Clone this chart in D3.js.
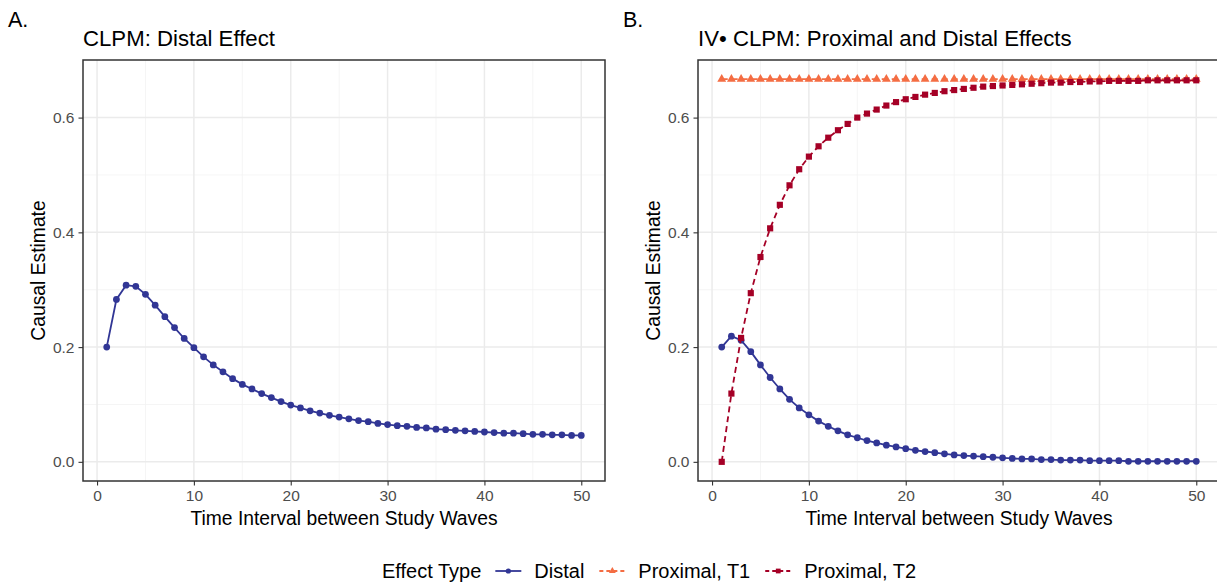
<!DOCTYPE html>
<html>
<head>
<meta charset="utf-8">
<script src="https://cdn.jsdelivr.net/npm/d3@7/dist/d3.min.js"></script>
<style>
body {margin:0; background:#fff;}
svg text {font-family:"Liberation Sans", Arial, Helvetica, sans-serif;}
</style>
</head>
<body>
<div id="chart"></div>
<script>
// study wave intervals
var waves = [1,2,3,4,5,6,7,8,9,10,11,12,13,14,15,16,17,18,19,20,21,22,23,24,25,
             26,27,28,29,30,31,32,33,34,35,36,37,38,39,40,41,42,43,44,45,46,47,48,49,50];

// panel A: CLPM distal effect
var distalA = [0.200,0.283,0.308,0.306,0.292,0.273,0.253,0.234,0.215,0.199,
               0.183,0.169,0.157,0.145,0.135,0.127,0.119,0.112,0.105,0.099,
               0.094,0.089,0.085,0.081,0.078,0.075,0.072,0.070,0.067,0.065,
               0.063,0.062,0.060,0.059,0.057,0.056,0.055,0.054,0.053,0.052,
               0.051,0.050,0.050,0.049,0.048,0.048,0.047,0.047,0.046,0.046];

// panel B: IV CLPM
var distalB = [0.200,0.219,0.212,0.192,0.169,0.147,0.127,0.109,0.094,0.082,
               0.071,0.062,0.054,0.047,0.042,0.037,0.033,0.029,0.026,0.023,
               0.020,0.018,0.016,0.014,0.012,0.011,0.010,0.009,0.008,0.007,
               0.006,0.005,0.005,0.004,0.004,0.003,0.003,0.003,0.002,0.002,
               0.002,0.002,0.001,0.001,0.001,0.001,0.001,0.001,0.001,0.001];
var proxT1 = [0.667,0.667,0.667,0.667,0.667,0.667,0.667,0.667,0.667,0.667,
              0.667,0.667,0.667,0.667,0.667,0.667,0.667,0.667,0.667,0.667,
              0.667,0.667,0.667,0.667,0.667,0.667,0.667,0.667,0.667,0.667,
              0.667,0.667,0.667,0.667,0.667,0.667,0.667,0.667,0.667,0.667,
              0.667,0.667,0.667,0.667,0.667,0.667,0.667,0.667,0.667,0.667];
var proxT2 = [0.000,0.119,0.216,0.294,0.357,0.407,0.448,0.482,0.510,0.532,
              0.550,0.565,0.578,0.589,0.600,0.607,0.614,0.621,0.627,0.632,
              0.636,0.640,0.643,0.646,0.648,0.650,0.652,0.654,0.655,0.656,
              0.657,0.658,0.659,0.660,0.661,0.661,0.662,0.662,0.663,0.663,
              0.664,0.664,0.664,0.664,0.665,0.665,0.665,0.665,0.665,0.665];

var xTicks = [0,10,20,30,40,50];
var xMinor = [5,15,25,35,45];
var yTicks = [0,0.2,0.4,0.6];
var yMinor = [0.1,0.3,0.5];

var seriesNames = ["Distal","Proximal, T1","Proximal, T2"];
var seriesColors = ["#313695","#F46D43","#A50026"];
var seriesDash = [null,"6,4","6,4"];
var seriesSymbols = [d3.symbolCircle,d3.symbolTriangle,d3.symbolSquare];
var symbolSizes = [36,34,38];

var W = 1217, H = 585;
var panelW = 522, panelTop = 60, panelBottom = 481;

var svg = d3.select("#chart")
  .append("svg")
  .attr("width", W)
  .attr("height", H);

var y = d3.scaleLinear()
  .domain([-0.0334, 0.7004])
  .range([panelBottom, panelTop]);

function makeSeries(vals){
  return waves.map(function(w,i){return {x:w, y:vals[i]};});
}

var drawPanel = function(left, tag, title, series){
  var x = d3.scaleLinear()
    .domain([-1.45, 52.45])
    .range([left, left+panelW]);

  var g = svg.append("g");

  // grid
  g.selectAll(".ymin").data(yMinor).enter().append("line")
    .attr("x1", left).attr("x2", left+panelW)
    .attr("y1", function(d){return y(d);}).attr("y2", function(d){return y(d);})
    .attr("stroke","#f2f2f2").attr("stroke-width",0.8);
  g.selectAll(".xmin").data(xMinor).enter().append("line")
    .attr("y1", panelTop).attr("y2", panelBottom)
    .attr("x1", function(d){return x(d);}).attr("x2", function(d){return x(d);})
    .attr("stroke","#f2f2f2").attr("stroke-width",0.8);
  g.selectAll(".ymaj").data(yTicks).enter().append("line")
    .attr("x1", left).attr("x2", left+panelW)
    .attr("y1", function(d){return y(d);}).attr("y2", function(d){return y(d);})
    .attr("stroke","#ebebeb").attr("stroke-width",1.5);
  g.selectAll(".xmaj").data(xTicks).enter().append("line")
    .attr("y1", panelTop).attr("y2", panelBottom)
    .attr("x1", function(d){return x(d);}).attr("x2", function(d){return x(d);})
    .attr("stroke","#ebebeb").attr("stroke-width",1.5);

  // axes
  var xAxis = g.append("g")
    .attr("transform","translate(0,"+panelBottom+")")
    .call(d3.axisBottom(x).tickValues(xTicks).tickSize(4.5).tickPadding(4).tickFormat(d3.format("d")));
  var yAxis = g.append("g")
    .attr("transform","translate("+left+",0)")
    .call(d3.axisLeft(y).tickValues(yTicks).tickSize(4.5).tickPadding(4).tickFormat(d3.format(".1f")));
  [xAxis,yAxis].forEach(function(a){
    a.select(".domain").remove();
    a.selectAll(".tick line").attr("stroke","#333333").attr("stroke-width",1.1);
    a.selectAll(".tick text").attr("fill","#4d4d4d").style("font-size","15.5px")
      .style("font-family","'Liberation Sans', Arial, sans-serif");
  });

  // lines and points
  var line = d3.line().x(function(d){return x(d.x);}).y(function(d){return y(d.y);});
  series.forEach(function(s){
    var k = s.k;
    var data = makeSeries(s.vals);
    g.append("path")
      .datum(data)
      .attr("d", line)
      .attr("fill","none")
      .attr("stroke", seriesColors[k])
      .attr("stroke-width", 1.8)
      .attr("stroke-dasharray", seriesDash[k]);
    g.selectAll(".pt"+k).data(data).enter().append("path")
      .attr("d", d3.symbol().type(seriesSymbols[k]).size(symbolSizes[k]))
      .attr("transform", function(d){return "translate("+x(d.x)+","+y(d.y)+")";})
      .attr("fill", seriesColors[k]);
  });

  // panel border
  g.append("rect")
    .attr("x", left).attr("y", panelTop)
    .attr("width", panelW).attr("height", panelBottom-panelTop)
    .attr("fill","none").attr("stroke","#333333").attr("stroke-width",1.5);

  // labels
  svg.append("text").text(tag)
    .attr("x", left-75).attr("y", 27)
    .style("font-size","21.5px").attr("fill","#000");
  svg.append("text").text(title)
    .attr("x", left).attr("y", 46)
    .style("font-size","22.2px").attr("fill","#000");
  svg.append("text").text("Time Interval between Study Waves")
    .attr("x", left+panelW/2).attr("y", 525)
    .attr("text-anchor","middle")
    .style("font-size","19.3px").attr("fill","#000");
  svg.append("g")
    .attr("transform","translate("+(left-38)+","+((panelTop+panelBottom)/2)+")")
    .append("text").text("Causal Estimate")
    .attr("text-anchor","middle")
    .attr("transform","rotate(-90)")
    .style("font-size","19.3px").attr("fill","#000");
};

drawPanel(83, "A.", "CLPM: Distal Effect", [{k:0, vals:distalA}]);
drawPanel(698, "B.", "IV\u2022 CLPM: Proximal and Distal Effects",
  [{k:0, vals:distalB},{k:1, vals:proxT1},{k:2, vals:proxT2}]);

// legend
var legend = svg.append("g");
var ly = 571;
var lt = legend.append("text").text("Effect Type")
  .attr("x", 382).attr("y", ly+7)
  .style("font-size","20px").attr("fill","#000");
var cx = 382 + lt.node().getComputedTextLength() + 14;
seriesNames.forEach(function(name,k){
  legend.append("line")
    .attr("x1", cx).attr("x2", cx+26)
    .attr("y1", ly).attr("y2", ly)
    .attr("stroke", seriesColors[k]).attr("stroke-width",1.8)
    .attr("stroke-dasharray", k==0 ? null : "4,3");
  legend.append("path")
    .attr("d", d3.symbol().type(seriesSymbols[k]).size(symbolSizes[k]*0.6))
    .attr("transform","translate("+(cx+13)+","+ly+")")
    .attr("fill", seriesColors[k]);
  var t = legend.append("text").text(name)
    .attr("x", cx+39).attr("y", ly+7)
    .style("font-size","20px").attr("fill","#000");
  cx = cx + 39 + t.node().getComputedTextLength() + 15;
});
</script>
</body>
</html>
